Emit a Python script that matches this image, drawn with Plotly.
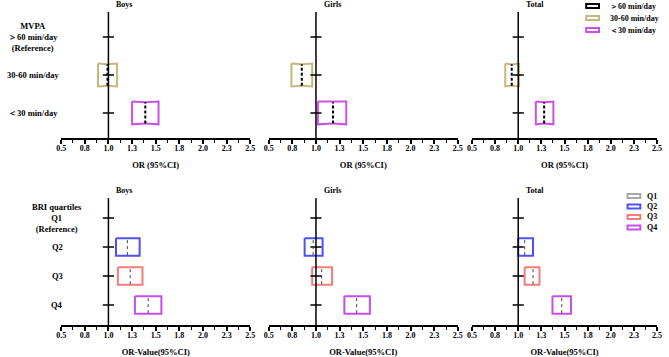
import numpy as np
import plotly.graph_objects as go

W, H = 669, 357

# ---------------- data ----------------
panels = ["Boys", "Girls", "Total"]
x_tickvals = [0.5, 0.75, 1.0, 1.25, 1.5, 1.75, 2.0, 2.25, 2.5]
x_ticktext = ["0.5", "0.8", "1.0", "1.3", "1.5", "1.8", "2.0", "2.3", "2.5"]

# MVPA (top row)
mvpa_labels = ["MVPA<br>＞60 min/day<br>(Reference)", "30-60 min/day", "＜30 min/day"]
mvpa_legend = ["＞60 min/day", "30-60 min/day", "＜30 min/day"]
mvpa_colors = ["#000000", "#C8B77C", "#CC4FEA"]
mvpa_boys_lo = [1.00, 0.89, 1.25]
mvpa_boys_or = [1.00, 0.99, 1.39]
mvpa_boys_hi = [1.00, 1.09, 1.53]
mvpa_girls_lo = [1.00, 0.74, 1.02]
mvpa_girls_or = [1.00, 0.85, 1.18]
mvpa_girls_hi = [1.00, 0.96, 1.32]
mvpa_total_lo = [1.00, 0.86, 1.19]
mvpa_total_or = [1.00, 0.93, 1.28]
mvpa_total_hi = [1.00, 1.01, 1.38]

# BRI quartiles (bottom row)
bri_labels = ["BRI quartiles<br>Q1<br>(Reference)", "Q2", "Q3", "Q4"]
bri_legend = ["Q1", "Q2", "Q3", "Q4"]
bri_colors = ["#A8A8A8", "#5050F2", "#F47C7C", "#C44FEA"]
bri_boys_lo = [1.00, 1.08, 1.10, 1.28]
bri_boys_or = [1.00, 1.20, 1.23, 1.42]
bri_boys_hi = [1.00, 1.33, 1.36, 1.56]
bri_girls_lo = [1.00, 0.88, 0.96, 1.30]
bri_girls_or = [1.00, 0.97, 1.06, 1.43]
bri_girls_hi = [1.00, 1.07, 1.17, 1.57]
bri_total_lo = [1.00, 1.00, 1.07, 1.37]
bri_total_or = [1.00, 1.07, 1.16, 1.47]
bri_total_hi = [1.00, 1.16, 1.23, 1.57]

# ---------------- layout helpers ----------------
FONT = "Liberation Serif, Times New Roman, serif"
x_dom = [[57 / W, 249 / W], [267.7 / W, 459.7 / W], [474 / W, 662 / W]]
y_dom_top = [1 - 138 / H, 1 - 12 / H]
y_dom_bot = [1 - 325 / H, 1 - 198 / H]

fig = go.Figure()
layout = dict(
    width=W, height=H, margin=dict(l=0, r=0, t=0, b=0),
    paper_bgcolor="white", plot_bgcolor="white", showlegend=False,
    font=dict(family=FONT, size=8, color="black", weight="bold"),
)
annotations = []
shapes = []


def box_path(lo, med, hi, yc, h, d):
    xs = np.linspace(lo, hi, 41)
    w = hi - lo
    bump = np.exp(-((xs - med) / (0.15 * w)) ** 2)
    top = yc + h - d * bump
    bot = yc - h + d * bump
    x = list(xs) + list(xs[::-1]) + [xs[0]]
    y = list(top) + list(bot[::-1]) + [top[0]]
    return x, y


rows = [
    dict(labels=mvpa_labels, colors=mvpa_colors, ydom=y_dom_top, rng=[-0.66, 2.66],
         data=[(mvpa_boys_lo, mvpa_boys_or, mvpa_boys_hi),
               (mvpa_girls_lo, mvpa_girls_or, mvpa_girls_hi),
               (mvpa_total_lo, mvpa_total_or, mvpa_total_hi)],
         xtitle="OR (95%CI)", med=dict(color="black", width=2, dash="3px,2px"),
         d=0.02, title_y=1 - 5 / H, lab_x=28 / W),
    dict(labels=bri_labels, colors=bri_colors, ydom=y_dom_bot, rng=[-0.69, 3.69],
         data=[(bri_boys_lo, bri_boys_or, bri_boys_hi),
               (bri_girls_lo, bri_girls_or, bri_girls_hi),
               (bri_total_lo, bri_total_or, bri_total_hi)],
         xtitle="OR-Value(95%CI)", med=dict(color="#444444", width=1, dash="dot"),
         d=0.025, title_y=1 - 190 / H, lab_x=53 / W),
]

k = 0
for r, row in enumerate(rows):
    n = len(row["labels"])
    ypos = [n - 1 - i for i in range(n)]
    for c, name in enumerate(panels):
        k += 1
        xs_ = "" if k == 1 else str(k)
        xa, ya = "x" + xs_, "y" + xs_
        lo_l, or_l, hi_l = row["data"][c]
        layout["xaxis" + xs_] = dict(
            domain=x_dom[c], range=[0.5, 2.5], anchor=ya,
            tickvals=x_tickvals, ticktext=x_ticktext,
            showline=True, linecolor="black", linewidth=1.5,
            ticks="outside", ticklen=4, tickwidth=1.5, tickcolor="black",
            minor=dict(dtick=0.125, tick0=0.5, ticks="outside", ticklen=3,
                       tickwidth=1.2, tickcolor="black", showgrid=False),
            showgrid=False, zeroline=False, ticklabelstandoff=-2,
            tickfont=dict(family=FONT, size=8, weight="bold"),
            title=dict(text=row["xtitle"], standoff=10,
                       font=dict(family=FONT, size=8.5, weight="bold")),
        )
        layout["yaxis" + xs_] = dict(
            domain=row["ydom"], range=row["rng"], anchor=xa, visible=False,
        )
        # boxes
        for i in range(n):
            if hi_l[i] - lo_l[i] <= 0:
                continue
            bx, by = box_path(lo_l[i], or_l[i], hi_l[i], ypos[i], 0.3, row["d"])
            fig.add_trace(go.Scatter(
                x=bx, y=by, mode="lines", fill="toself", fillcolor="white",
                line=dict(color=row["colors"][i], width=2),
                xaxis=xa, yaxis=ya, hoverinfo="skip", showlegend=False))
        # reference line at OR = 1
        shapes.append(dict(type="line", xref=xa, yref=ya + " domain",
                           x0=1.0, x1=1.0, y0=0, y1=1,
                           line=dict(color="black", width=1.5), layer="above"))
        # category ticks crossing the reference line
        fig.add_trace(go.Scatter(
            x=[1.0] * n, y=ypos, mode="markers",
            marker=dict(symbol="line-ew", size=8,
                        line=dict(color="black", width=1.5)),
            xaxis=xa, yaxis=ya, hoverinfo="skip", showlegend=False))
        # medians
        for i in range(n):
            if hi_l[i] - lo_l[i] <= 0:
                continue
            fig.add_trace(go.Scatter(
                x=[or_l[i], or_l[i]], y=[ypos[i] - 0.28, ypos[i] + 0.28],
                mode="lines", line=row["med"], xaxis=xa, yaxis=ya,
                hoverinfo="skip", showlegend=False))
        # panel title
        annotations.append(dict(
            text=name, x=1.0, xref=xa, y=row["title_y"], yref="paper",
            xanchor="left", yanchor="middle", xshift=6, showarrow=False,
            font=dict(family=FONT, size=8, weight="bold")))
        # category labels (left of first panel)
        if c == 0:
            for i in range(n):
                annotations.append(dict(
                    text=row["labels"][i], x=row["lab_x"], xref="paper",
                    y=ypos[i], yref=ya, xanchor="center", yanchor="middle",
                    align="center", showarrow=False,
                    font=dict(family=FONT, size=8.5, weight="bold")))

# ---------------- legends (drawn keys) ----------------
legends = [
    dict(names=mvpa_legend, colors=mvpa_colors, x0=590, x1=603, tx=612,
         rows=[6, 18, 30]),
    dict(names=bri_legend, colors=bri_colors, x0=632, x1=645, tx=650,
         rows=[196, 206.5, 217, 227.5]),
]
for lg in legends:
    for name, col, cy in zip(lg["names"], lg["colors"], lg["rows"]):
        shapes.append(dict(type="rect", xref="paper", yref="paper",
                           x0=lg["x0"] / W, x1=lg["x1"] / W,
                           y0=1 - (cy + 2) / H, y1=1 - (cy - 2) / H,
                           line=dict(color=col, width=2), fillcolor="white"))
        annotations.append(dict(
            text=name, x=lg["tx"] / W, xref="paper", y=1 - cy / H, yref="paper",
            xanchor="left", yanchor="middle", showarrow=False,
            font=dict(family=FONT, size=8, weight="bold")))

layout["annotations"] = annotations
layout["shapes"] = shapes
fig.update_layout(**layout)
fig.write_html(
    "out.html",
    config={"displayModeBar": False},
    post_script="document.body.style.margin='0';document.body.style.padding='0';"
                "document.body.style.overflow='hidden';",
)
